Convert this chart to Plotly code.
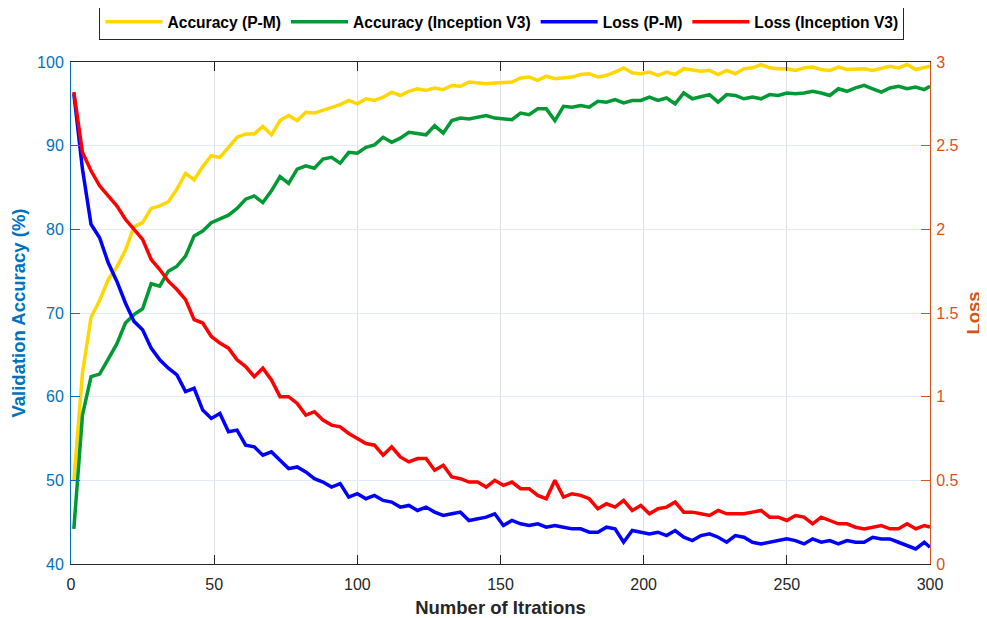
import plotly.graph_objects as go

iterations = list(range(1, 300, 3)) + [300]

acc_pm = [50.0, 62.8, 69.5, 71.5, 74.0, 75.5, 77.5, 80.3, 80.8, 82.5,
          82.8, 83.3, 84.8, 86.7, 85.9, 87.5, 88.8, 88.6, 89.8, 91.0,
          91.4, 91.4, 92.3, 91.3, 93.0, 93.6, 93.0, 94.0, 93.9, 94.2,
          94.6, 94.9, 95.4, 95.0, 95.6, 95.4, 95.8, 96.4, 96.0, 96.5,
          96.8, 96.6, 96.9, 96.7, 97.2, 97.1, 97.6, 97.5, 97.4, 97.5,
          97.6, 97.6, 98.1, 98.2, 97.8, 98.3, 98.0, 98.1, 98.2, 98.5,
          98.6, 98.2, 98.4, 98.8, 99.3, 98.7, 98.6, 98.8, 98.4, 98.8,
          98.5, 99.2, 99.0, 98.9, 99.0, 98.5, 99.0, 98.6, 99.2, 99.3,
          99.7, 99.3, 99.2, 99.2, 99.0, 99.3, 99.4, 99.1, 99.0, 99.4,
          99.1, 99.2, 99.2, 99.0, 99.3, 99.5, 99.3, 99.7, 99.1, 99.3, 99.5]

acc_inc = [44.2, 57.8, 62.4, 62.7, 64.5, 66.3, 68.8, 69.8, 70.5, 73.5,
           73.2, 75.0, 75.6, 76.8, 79.2, 79.8, 80.8, 81.3, 81.7, 82.5,
           83.6, 84.0, 83.2, 84.6, 86.3, 85.5, 87.2, 87.6, 87.3, 88.4,
           88.6, 87.9, 89.2, 89.1, 89.8, 90.1, 91.0, 90.4, 90.9, 91.6,
           91.4, 91.3, 92.4, 91.5, 93.0, 93.3, 93.2, 93.4, 93.6, 93.3,
           93.2, 93.1, 93.9, 93.7, 94.4, 94.4, 93.0, 94.7, 94.6, 94.8,
           94.6, 95.3, 95.2, 95.5, 95.1, 95.4, 95.4, 95.8, 95.4, 95.7,
           95.0, 96.3, 95.6, 95.8, 96.1, 95.2, 96.1, 96.0, 95.6, 95.8,
           95.6, 96.1, 96.0, 96.3, 96.2, 96.3, 96.5, 96.3, 96.0, 96.8,
           96.5, 96.9, 97.2, 96.8, 96.4, 96.9, 97.1, 96.8, 97.0, 96.7, 97.1]

loss_pm = [2.81, 2.36, 2.03, 1.95, 1.80, 1.69, 1.56, 1.45, 1.40, 1.29,
           1.22, 1.17, 1.13, 1.03, 1.05, 0.92, 0.87, 0.90, 0.79, 0.80,
           0.71, 0.70, 0.65, 0.67, 0.62, 0.57, 0.58, 0.55, 0.51, 0.49,
           0.46, 0.48, 0.40, 0.42, 0.39, 0.41, 0.38, 0.37, 0.34, 0.35,
           0.32, 0.34, 0.31, 0.29, 0.30, 0.31, 0.26, 0.27, 0.28, 0.30,
           0.23, 0.26, 0.24, 0.23, 0.24, 0.22, 0.23, 0.22, 0.21, 0.21,
           0.19, 0.19, 0.22, 0.21, 0.13, 0.20, 0.19, 0.18, 0.19, 0.17,
           0.20, 0.16, 0.14, 0.17, 0.18, 0.16, 0.13, 0.17, 0.16, 0.13,
           0.12, 0.13, 0.14, 0.15, 0.14, 0.12, 0.15, 0.13, 0.14, 0.12,
           0.14, 0.13, 0.13, 0.16, 0.15, 0.15, 0.13, 0.11, 0.09, 0.13, 0.10]

loss_inc = [2.82, 2.46, 2.35, 2.26, 2.20, 2.14, 2.06, 2.00, 1.94, 1.82,
            1.76, 1.69, 1.64, 1.58, 1.46, 1.44, 1.36, 1.32, 1.29, 1.22,
            1.18, 1.12, 1.17, 1.10, 1.00, 1.00, 0.96, 0.89, 0.91, 0.86,
            0.83, 0.82, 0.78, 0.75, 0.72, 0.71, 0.65, 0.70, 0.64, 0.61,
            0.63, 0.63, 0.56, 0.59, 0.52, 0.51, 0.49, 0.49, 0.46, 0.50,
            0.47, 0.49, 0.45, 0.45, 0.41, 0.39, 0.50, 0.40, 0.42, 0.41,
            0.39, 0.33, 0.36, 0.34, 0.38, 0.32, 0.35, 0.30, 0.33, 0.34,
            0.37, 0.31, 0.31, 0.30, 0.29, 0.32, 0.30, 0.30, 0.30, 0.31,
            0.32, 0.28, 0.28, 0.26, 0.29, 0.28, 0.24, 0.28, 0.26, 0.24,
            0.24, 0.22, 0.21, 0.22, 0.23, 0.21, 0.21, 0.24, 0.21, 0.23, 0.22]

x_ticks = [0, 50, 100, 150, 200, 250, 300]
acc_ticks = [40, 50, 60, 70, 80, 90, 100]
loss_ticks = [0, 0.5, 1, 1.5, 2, 2.5, 3]
loss_tick_text = ["0", "0.5", "1", "1.5", "2", "2.5", "3"]

BLUE_AX = "#0072BD"
ORANGE_AX = "#D95319"
FONT = "Liberation Sans, Arial, sans-serif"

fig = go.Figure()
fig.add_trace(go.Scatter(x=iterations, y=acc_pm, mode="lines", name="Accuracy (P-M)",
                         line=dict(color="#FFD700", width=3.5)))
fig.add_trace(go.Scatter(x=iterations, y=acc_inc, mode="lines", name="Accuracy (Inception V3)",
                         line=dict(color="#009933", width=3.5)))
fig.add_trace(go.Scatter(x=iterations, y=loss_pm, mode="lines", name="Loss (P-M)",
                         line=dict(color="#0000FF", width=3.5), yaxis="y2"))
fig.add_trace(go.Scatter(x=iterations, y=loss_inc, mode="lines", name="Loss (Inception V3)",
                         line=dict(color="#FF0000", width=3.5), yaxis="y2"))

# The page has an 8px body margin, so the figure is sized to fit the 987x618 window.
fig.update_layout(
    width=979, height=610,
    margin=dict(l=63, r=57, t=54, b=54, autoexpand=False),
    paper_bgcolor="white", plot_bgcolor="white",
    font=dict(family=FONT, size=16, color="#262626"),
    legend=dict(orientation="h", x=0.5017, xanchor="center", y=1.0797, yanchor="middle",
                bordercolor="#262626", borderwidth=1, bgcolor="white",
                font=dict(family=FONT, size=15.6, color="#000000", weight="bold"),
                itemwidth=57, tracegroupgap=0),
    xaxis=dict(range=[0, 300], tickvals=x_ticks, ticks="inside", ticklen=9,
               tickcolor="#262626", showline=True, linecolor="#262626", linewidth=1,
               mirror="ticks", showgrid=True, gridcolor="#DFDFDF", gridwidth=1,
               zeroline=False, tickfont=dict(size=16, color="#262626"),
               ticklabelstandoff=6,
               title=dict(text="<b>Number of Itrations</b>", font=dict(size=18.5, color="#262626"),
                          standoff=11)),
    yaxis=dict(range=[40, 100], tickvals=acc_ticks, ticks="inside", ticklen=9,
               tickcolor=BLUE_AX, showline=True, linecolor=BLUE_AX, linewidth=1,
               showgrid=True, gridcolor="#E0ECF7", gridwidth=1, zeroline=False,
               tickfont=dict(size=16, color=BLUE_AX), ticklabelstandoff=3,
               title=dict(text="<b>Validation Accuracy (%)</b>", font=dict(size=18.5, color=BLUE_AX),
                          standoff=7)),
    yaxis2=dict(range=[0, 3], tickvals=loss_ticks, ticktext=loss_tick_text, overlaying="y",
                side="right", ticks="inside", ticklen=9, tickcolor=ORANGE_AX,
                showline=True, linecolor=ORANGE_AX, linewidth=1, showgrid=False,
                zeroline=False, tickfont=dict(size=16, color=ORANGE_AX), ticklabelstandoff=2,
                title=dict(text="<b>Loss</b>", font=dict(size=18.5, color=ORANGE_AX), standoff=9)),
)

fig.write_html("out.html")
